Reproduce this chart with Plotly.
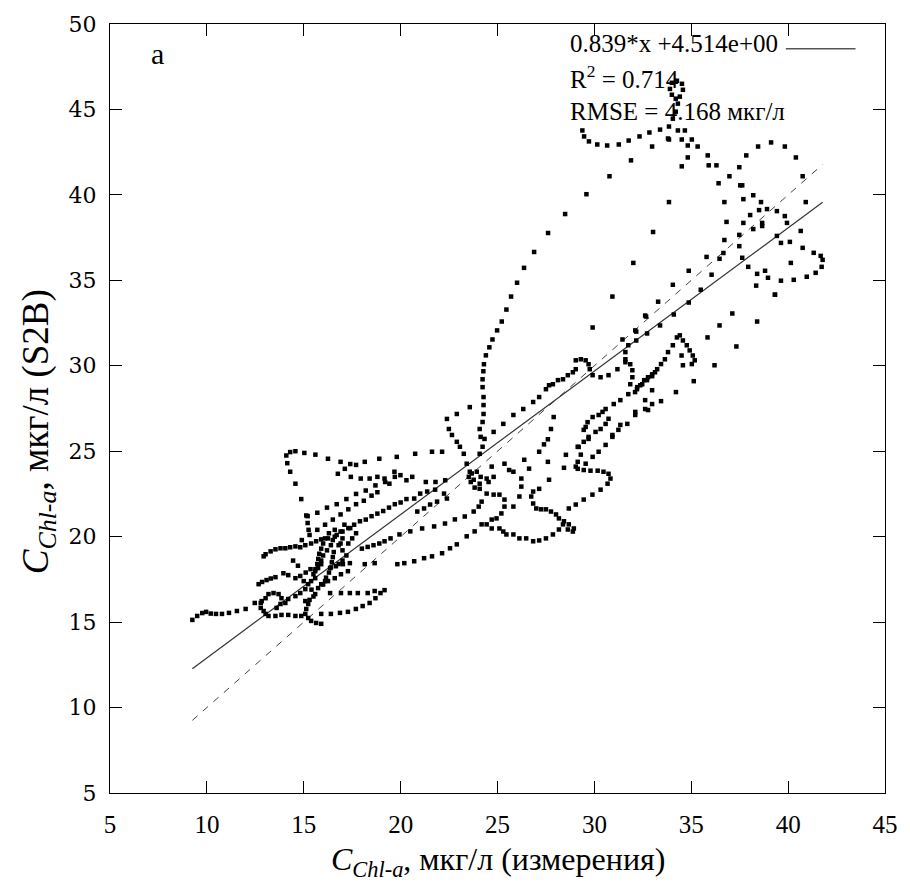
import plotly.graph_objects as go

# ---------------- data ----------------
tail_x = [9.25, 9.5, 9.76, 9.96, 10.2, 10.47, 10.78, 11.14, 11.55, 12.0, 12.47, 12.78, 12.78, 12.93, 13.03, 13.18, 13.54, 13.85, 14.2, 14.57, 14.87, 15.08, 15.23, 15.38, 15.64, 15.9]
tail_y = [15.13, 15.36, 15.53, 15.6, 15.5, 15.48, 15.48, 15.54, 15.65, 15.77, 16.12, 16.12, 15.83, 15.65, 15.48, 15.36, 15.36, 15.42, 15.42, 15.36, 15.36, 15.48, 15.24, 15.07, 14.95, 14.9]

vee_x = [15.9, 16.4, 16.87, 17.28, 17.69, 18.04, 18.4, 18.7, 18.96, 19.17, 18.66, 18.3, 17.79, 17.38, 16.92, 16.36]
vee_y = [15.48, 15.48, 15.54, 15.6, 15.77, 15.94, 16.12, 16.4, 16.7, 16.87, 16.82, 16.7, 16.7, 16.7, 16.7, 16.7]

rowa_x = [12.67, 12.85, 13.08, 13.3, 13.54, 13.95, 14.2, 14.57, 14.82, 15.1, 15.35]
rowa_y = [17.22, 17.35, 17.46, 17.55, 17.63, 17.86, 17.75, 17.57, 17.7, 17.9, 18.1]

row19_x = [12.93, 13.03, 13.29, 13.54, 13.8, 14.05, 14.3, 14.57, 14.82, 15.08, 15.38, 15.64, 15.9, 16.25, 16.6]
row19_y = [18.85, 18.97, 19.14, 19.26, 19.32, 19.32, 19.38, 19.43, 19.38, 19.5, 19.6, 19.73, 19.84, 19.9, 20.0]

clb_x = [12.83, 13.03, 13.18, 13.44, 13.7, 13.85, 13.8, 13.6, 14.05, 14.2, 14.57, 14.82, 15.08, 15.23, 15.38, 15.59, 15.59, 15.74, 15.9,
         15.08, 15.23, 15.13, 15.59, 15.74, 15.9, 16.25, 16.6, 16.92, 17.28, 16.36, 16.66, 17.02, 17.38, 18.15, 18.66]
clb_y = [16.23, 16.4, 16.64, 16.7, 16.64, 16.4, 16.06, 15.83, 16.12, 16.35, 16.52, 16.7, 16.93, 17.22, 17.4, 17.57, 17.98, 18.16, 18.39,
         16.23, 16.06, 15.77, 16.64, 16.99, 17.22, 17.4, 17.57, 17.8, 17.98, 18.16, 18.27, 18.39, 18.45, 18.39, 18.45]

blob_x = [15.9, 16.0, 16.2, 16.4, 16.5, 16.7, 16.9, 16.6, 16.3, 16.1, 16.8, 17.0, 17.2, 17.0, 16.8, 17.3, 17.5, 17.7, 17.4, 17.1]
blob_y = [18.6, 18.9, 19.2, 19.5, 19.8, 20.1, 20.3, 20.4, 20.2, 19.9, 19.5, 19.2, 18.9, 18.6, 18.4, 19.6, 19.9, 20.2, 20.5, 20.7]

dense_x = [15.5, 15.6, 15.7, 15.75, 15.8, 15.9, 16.0, 16.15, 16.3, 16.4, 16.45, 16.5, 16.55, 16.9, 17.0, 16.0, 16.1, 15.4, 15.5, 15.3, 15.0, 14.7, 14.45]
dense_y = [17.8, 18.1, 18.4, 18.7, 19.0, 19.3, 19.6, 17.6, 17.9, 18.2, 18.5, 18.8, 19.1, 19.6, 19.9, 17.2, 17.4, 16.9, 16.5, 16.3, 17.4, 18.3, 18.6]

d1_x = [15.2, 15.7, 16.2, 16.7, 17.2, 17.7, 18.2, 18.7, 19.2, 19.7]
d1_y = [21.2, 21.4, 21.7, 21.9, 22.2, 22.5, 22.7, 23.0, 23.2, 23.5]
d2_x = [14.9, 15.3, 15.7, 16.1, 16.5, 16.9, 17.3, 17.7, 18.1, 18.5, 18.8]
d2_y = [19.8, 20.1, 20.4, 20.7, 21.0, 21.3, 21.6, 21.9, 22.1, 22.4, 22.6]
m1_x = [17.0, 17.3, 17.6, 17.9, 18.2, 18.5, 18.8, 19.1, 19.4, 19.7, 20.0, 20.3]
m1_y = [20.3, 20.5, 20.7, 20.9, 21.0, 21.2, 21.35, 21.5, 21.7, 21.9, 22.0, 22.2]

hook_x = [15.25, 15.2, 15.13, 14.87, 14.57, 14.3, 14.15, 14.1, 14.3, 14.57, 15.03, 15.6, 16.25, 16.9, 17.4, 17.7, 18.15, 18.9, 19.8, 20.75, 21.62, 22.14]
hook_y = [20.4, 20.8, 21.24, 22.2, 23.1, 23.8, 24.3, 24.75, 24.95, 25.0, 24.9, 24.8, 24.56, 24.38, 24.25, 24.2, 24.38, 24.56, 24.67, 24.85, 24.97, 24.97]

row235_x = [16.76, 17.12, 17.43, 17.94, 18.4, 18.8, 19.17, 19.42, 19.68, 19.99, 20.3, 20.6, 21.3, 21.8, 22.3]
row235_y = [23.68, 23.97, 23.5, 23.4, 23.4, 23.5, 23.4, 23.1, 23.8, 23.6, 23.3, 23.5, 23.2, 23.2, 23.3]

low1_x = [19.83, 20.19, 20.7, 21.21, 21.62, 22.14, 22.55, 22.9, 23.41, 23.82, 24.18]
low1_y = [18.39, 18.45, 18.56, 18.74, 18.85, 19.03, 19.32, 19.55, 20.02, 20.31, 20.72]
low2_x = [18.0, 18.3, 18.6, 18.9, 19.17, 19.48, 19.94, 20.5, 21.11, 21.73, 22.29, 22.8, 23.31, 23.77, 24.03, 24.18]
low2_y = [19.3, 19.4, 19.5, 19.6, 19.73, 19.9, 20.13, 20.31, 20.48, 20.6, 20.77, 21.01, 21.18, 21.47, 21.76, 22.05]
loopx_x = [20.86, 20.7, 21.01, 21.37, 21.78, 22.24, 22.39, 21.88, 21.52, 21.21]
loopx_y = [21.47, 22.23, 22.52, 22.64, 22.75, 22.52, 22.23, 22.05, 21.88, 21.65]

knotb_x = [23.67, 23.93, 24.13, 24.08, 23.82, 23.62, 23.52, 23.77]
knotb_y = [23.7, 23.8, 23.5, 23.1, 22.87, 23.2, 23.5, 23.33]

wave_x = [24.08, 24.44, 24.8, 25.1, 25.36, 25.36, 25.2, 24.95, 24.7, 24.44, 24.7, 25.1, 25.3, 25.46, 25.82, 26.13, 26.48, 26.84, 27.15, 27.5, 27.86, 28.17, 28.38,
          28.63, 28.89, 28.94, 28.68, 28.43, 28.17, 28.02, 27.76, 27.5, 27.25, 27.0, 26.84, 26.74, 26.84, 27.15]
wave_y = [22.8, 22.52, 22.46, 22.46, 22.17, 21.76, 21.36, 21.07, 21.0, 20.72, 20.48, 20.48, 20.3, 20.13, 20.13, 19.9, 19.9, 19.73, 19.78, 19.9, 20.13, 20.42, 20.72,
          20.42, 20.3, 20.48, 20.72, 20.9, 21.07, 21.3, 21.47, 21.6, 21.6, 21.65, 21.94, 22.35, 22.64, 22.8]

rch_x = [28.68, 29.04, 29.45, 29.9, 30.32, 30.68, 30.83, 30.73, 30.47, 30.17, 29.8, 29.45, 29.14, 29.04, 29.14, 29.3, 29.19, 29.45, 29.7, 30.06, 30.32, 30.58, 30.73]
rch_y = [21.65, 21.88, 22.17, 22.46, 22.75, 23.1, 23.4, 23.68, 23.8, 23.86, 23.86, 23.9, 23.97, 24.1, 24.38, 24.8, 25.25, 25.55, 25.84, 26.13, 26.3, 26.6, 26.9]

csh_x = [26.38, 26.63, 26.23, 26.23, 26.13, 25.82, 24.7, 24.8, 24.44, 24.54, 25.36, 25.6, 25.82]
csh_y = [24.5, 23.98, 23.4, 22.93, 22.35, 21.76, 24.1, 23.5, 23.4, 23.2, 24.27, 23.9, 23.8]

col27_x = [27.9, 27.76, 27.6, 27.4, 27.15, 27.6, 27.66, 28.43, 28.53, 29.14, 29.7]
col27_y = [27.0, 26.3, 25.7, 25.4, 24.97, 24.38, 23.33, 24.03, 24.79, 25.26, 25.72]

ch2_x = [22.39, 22.49, 22.65, 22.9, 23.06, 23.26, 23.41, 23.57, 22.9, 23.57]
ch2_y = [26.89, 26.3, 25.95, 25.55, 25.26, 24.85, 24.27, 23.8, 27.18, 27.58]

diag_x = [24.33, 24.8, 25.3, 25.82, 26.33, 26.84, 27.15, 27.5, 27.66, 27.86]
diag_y = [25.72, 26.13, 26.6, 27.12, 27.47, 27.88, 28.17, 28.63, 28.86, 28.92]

ripple_x = [28.12, 28.38, 28.63, 28.89, 29.04, 29.04, 29.3, 29.55, 29.7, 29.76, 29.91, 30.32, 30.73, 31.19, 31.6]
ripple_y = [29.16, 29.21, 29.45, 29.62, 29.8, 30.32, 30.38, 30.32, 30.09, 29.8, 29.45, 29.33, 29.45, 29.8, 30.21]

col32_x = [31.85, 31.96, 31.96, 31.85, 31.6, 31.6, 31.75, 32.11, 32.62]
col32_y = [28.92, 29.33, 29.74, 30.09, 30.38, 30.8, 31.2, 32.07, 32.94]

loop34_x = [32.1, 32.2, 32.37, 32.57, 32.77, 32.98, 33.13, 33.24, 33.44, 33.64, 33.8, 34.05, 34.26, 34.41, 34.57, 34.77, 34.92, 35.08, 35.18, 35.03, 34.57, 34.5]
loop34_y = [28.46, 28.63, 28.86, 29.16, 29.33, 29.5, 29.62, 29.8, 30.1, 30.38, 30.8, 31.2, 31.66, 31.78, 31.48, 31.2, 30.9, 30.6, 30.32, 30.1, 30.03, 30.6]

r2_x = [29.55, 29.91, 30.22, 30.58, 30.93, 31.24, 31.7, 32.11, 32.62, 32.98]
r2_y = [24.27, 24.67, 24.97, 25.37, 25.84, 26.25, 26.6, 27.3, 27.99, 28.57]
r3_x = [32.11, 32.77, 33.44, 34.21, 35.13, 36.2, 37.33, 38.4, 39.32]
r3_y = [27.12, 27.41, 27.93, 28.46, 29.1, 30.03, 31.13, 32.59, 34.16]
knot_x = [29.65, 29.55, 29.45, 29.91, 30.22, 30.42]
knot_y = [26.7, 26.42, 26.25, 27.0, 27.12, 27.3]
r4_x = [30.58, 31.0, 31.34, 31.75, 32.21, 32.47, 32.72, 32.98, 30.93, 31.34, 32.62, 32.98]
r4_y = [27.47, 27.76, 27.99, 28.34, 28.75, 28.92, 29.16, 29.39, 25.95, 26.54, 27.47, 27.76]

arc_x = [24.08, 24.23, 24.13, 24.08, 24.23, 24.28, 24.28, 24.28, 24.23, 24.23, 24.27, 24.3, 24.4, 24.58, 24.74, 24.98, 25.22, 25.46, 25.70, 26.01, 26.37, 26.89, 27.61, 28.49, 29.59, 30.78, 31.89, 32.98, 33.8]
arc_y = [24.85, 25.26, 25.84, 26.3, 26.71, 27.18, 27.7, 28.17, 28.75, 29.21, 29.68, 30.09, 30.61, 31.08, 31.54, 32.07, 32.59, 33.29, 34.05, 34.86, 35.73, 36.66, 37.77, 38.88, 40.04, 41.09, 42.02, 42.83, 43.3]

top_x = [29.38, 29.47, 29.72, 30.15, 30.66, 31.26, 31.77, 32.33, 32.84, 33.39, 33.85, 34.05, 34.2, 34.31, 34.41, 34.57, 34.52, 34.26, 34.0, 33.9, 34.0, 34.2]
top_y = [43.77, 43.42, 43.13, 42.95, 42.89, 42.95, 43.18, 43.42, 43.65, 43.82, 44.0, 44.46, 44.87, 45.34, 45.75, 46.15, 46.5, 46.68, 46.56, 46.2, 45.86, 45.63]

desc_x = [34.31, 34.67, 35.03, 35.33, 35.85, 36.3, 36.41]
desc_y = [43.77, 43.77, 43.24, 42.83, 42.31, 41.73, 40.68]

rloop_x = [36.97, 37.48, 37.84, 38.45, 39.12, 39.83, 40.4, 40.75, 40.91, 40.65, 40.75, 41.32, 41.68, 41.78, 41.73, 41.42, 40.96, 40.29, 39.63, 38.96, 38.81, 38.4, 38.35, 39.32]
rloop_y = [41.09, 41.62, 42.31, 42.83, 43.07, 42.83, 42.19, 41.09, 39.58, 37.89, 36.9, 36.61, 36.43, 36.2, 35.79, 35.44, 35.21, 35.03, 34.98, 35.15, 35.56, 35.38, 34.69, 34.16]

loose_x = [33.85, 34.51, 34.82, 34.82, 35.9, 34.51, 33.85, 33.03, 32.01, 36.71, 37.69, 38.2, 38.6, 38.91, 39.42, 39.83, 39.94, 38.5, 38.04, 37.69,
           36.82, 38.66, 38.66, 38.2, 37.48, 36.71, 37.48, 36.66, 36.46, 35.79, 37.63, 37.94, 36.05, 34.87, 35.49, 34.87, 34.05, 33.29, 34.1, 33.39,
           32.67, 32.16, 32.72, 32.16, 31.45, 37.12, 36.46, 35.84, 39.42, 39.63, 40.09, 40.14, 37.53, 37.63, 30.93, 29.91]
loose_y = [43.24, 43.24, 42.89, 42.19, 41.73, 41.67, 39.58, 37.83, 36.02, 39.58, 39.75, 39.98, 39.58, 39.17, 39.05, 38.76, 38.36, 39.11, 38.82, 38.36,
           38.42, 38.36, 38.18, 38.0, 37.66, 37.36, 37.0, 36.6, 36.26, 36.37, 36.32, 35.79, 35.33, 35.56, 34.45, 33.7, 34.74, 33.75, 33.0, 32.36,
           32.88, 32.0, 31.89, 31.48, 31.54, 33.06, 32.36, 31.66, 37.6, 37.19, 37.25, 36.02, 40.56, 40.56, 34.05, 32.24]

slope = 0.839
intercept = 4.514
fit_label = "0.839*x +4.514e+00"
r2_label = "R<sup>2</sup> = 0.714"
rmse_label = "RMSE = 4.168 мкг/л"
x_title = "<i>C</i><sub><i>Chl-a</i></sub>, мкг/л (измерения)"
y_title = "<i>C</i><sub><i>Chl-a</i></sub>, мкг/л (S2B)"
x_ticks = [5, 10, 15, 20, 25, 30, 35, 40, 45]
y_ticks = [5, 10, 15, 20, 25, 30, 35, 40, 45, 50]

# ---------------- assemble ----------------
xs_groups = [tail_x, vee_x, rowa_x, row19_x, clb_x, blob_x, dense_x, d1_x, d2_x, m1_x, hook_x, row235_x, low1_x, low2_x,
             loopx_x, knotb_x, wave_x, rch_x, csh_x, col27_x, ch2_x, diag_x, ripple_x, col32_x, loop34_x, r2_x,
             r3_x, knot_x, r4_x, arc_x, top_x, desc_x, rloop_x, loose_x]
ys_groups = [tail_y, vee_y, rowa_y, row19_y, clb_y, blob_y, dense_y, d1_y, d2_y, m1_y, hook_y, row235_y, low1_y, low2_y,
             loopx_y, knotb_y, wave_y, rch_y, csh_y, col27_y, ch2_y, diag_y, ripple_y, col32_y, loop34_y, r2_y,
             r3_y, knot_y, r4_y, arc_y, top_y, desc_y, rloop_y, loose_y]
xs, ys = [], []
for gx, gy in zip(xs_groups, ys_groups):
    n = min(len(gx), len(gy))
    xs += gx[:n]
    ys += gy[:n]

x_lo, x_hi = min(xs), max(xs)
line_x = [x_lo, x_hi]
fit_y = [slope * v + intercept for v in line_x]

SERIF = "Liberation Serif"
WIDE_SERIF = "DejaVu Serif"

fig = go.Figure()
fig.add_trace(go.Scatter(x=line_x, y=line_x, mode="lines",
                         line=dict(color="#444444", width=1, dash="7px,7px"), hoverinfo="skip"))
fig.add_trace(go.Scatter(x=line_x, y=fit_y, mode="lines",
                         line=dict(color="#333333", width=1.2), hoverinfo="skip"))
fig.add_trace(go.Scatter(x=xs, y=ys, mode="markers",
                         marker=dict(symbol="square", size=4.5, color="black", line=dict(width=0))))

axis_common = dict(showgrid=False, zeroline=False, showline=True, linecolor="black", linewidth=1.2,
                   ticks="inside", ticklen=12, tickwidth=1, tickcolor="black", mirror="ticks")

fig.update_layout(
    width=910, height=890,
    margin=dict(l=110, r=18, t=20, b=97),
    paper_bgcolor="white", plot_bgcolor="white",
    showlegend=False,
    font=dict(family=SERIF, color="black"),
    xaxis=dict(range=[5, 45], tickvals=x_ticks, ticktext=[str(v) for v in x_ticks],
               tickfont=dict(family=SERIF, size=25, color="black"), ticklabelstandoff=9, **axis_common),
    yaxis=dict(range=[5, 50], tickvals=y_ticks, ticktext=[str(v) for v in y_ticks],
               tickfont=dict(family=WIDE_SERIF, size=22, color="black"), ticklabelstandoff=8, **axis_common),
)

ann_font = dict(family=SERIF, size=25, color="black")
fig.add_annotation(text=x_title, xref="paper", yref="paper",
                   x=0.5, y=-0.089, showarrow=False, xanchor="center", yanchor="middle",
                   font=dict(family=SERIF, size=32, color="black"))
fig.add_annotation(text=y_title, xref="paper", yref="paper",
                   x=-0.092, y=0.47, showarrow=False, xanchor="center", yanchor="middle", textangle=-90,
                   font=dict(family=SERIF, size=37, color="black"))
fig.add_annotation(text="a", xref="paper", yref="paper", x=0.061, y=0.962, showarrow=False,
                   xanchor="center", yanchor="middle", font=dict(family=SERIF, size=30, color="black"))
fig.add_annotation(text=fit_label, xref="paper", yref="paper", x=0.591, y=0.974, showarrow=False,
                   xanchor="left", yanchor="middle", font=ann_font)
fig.add_annotation(text=r2_label, xref="paper", yref="paper", x=0.591, y=0.931, showarrow=False,
                   xanchor="left", yanchor="middle", font=ann_font)
fig.add_annotation(text=rmse_label, xref="paper", yref="paper", x=0.591, y=0.886, showarrow=False,
                   xanchor="left", yanchor="middle", font=ann_font)
fig.add_shape(type="line", xref="paper", yref="paper", x0=0.872, x1=0.962, y0=0.9677, y1=0.9677,
              line=dict(color="black", width=1))

fig.write_html("out.html")
